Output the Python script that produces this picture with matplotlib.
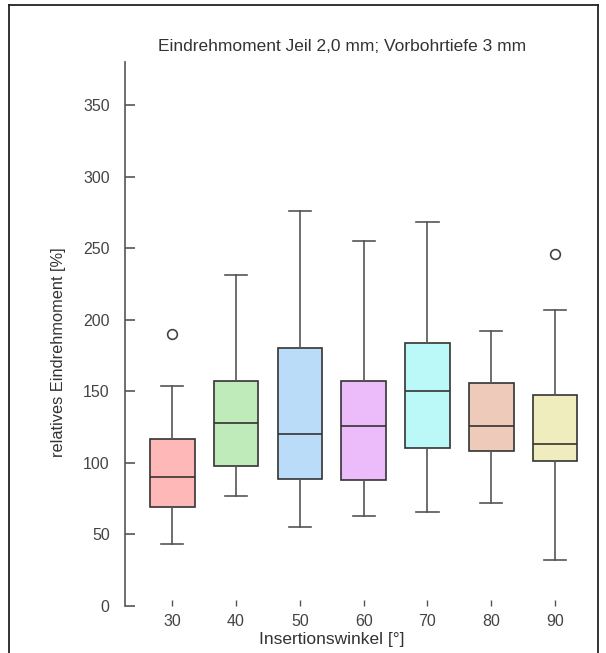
import matplotlib
matplotlib.use('Agg')
import matplotlib.pyplot as plt
from matplotlib.lines import Line2D

# values
winkel = ['30', '40', '50', '60', '70', '80', '90']
median = [90, 128, 120, 125.5, 150.5, 125.5, 113]
q1 = [69.5, 97.5, 89, 88, 110.5, 108.5, 101]
q3 = [117, 157, 180, 157, 184, 156, 147.5]
whisker_low = [43, 77, 55, 63, 66, 72, 32]
whisker_high = [154, 231, 276, 255, 268.5, 192, 206.5]
ausreisser = [[190], [], [], [], [], [], [246]]
farben = ['#FFB8B8', '#BEEBB9', '#BADCF9', '#EBBCF9', '#BAF9F7', '#EDCAB9', '#EFEDBD']

plt.rcParams['font.family'] = ['Liberation Sans', 'DejaVu Sans']
grau = '#444444'

fig = plt.figure(figsize=(6.06, 6.53), dpi=100)
ax = fig.add_axes([125 / 606, 47 / 653, 455 / 606, 544 / 653])

stats = []
for i in range(len(winkel)):
    stats.append({'med': median[i], 'q1': q1[i], 'q3': q3[i],
                  'whislo': whisker_low[i], 'whishi': whisker_high[i],
                  'fliers': ausreisser[i], 'label': winkel[i]})

bp = ax.bxp(stats, positions=range(1, 8), widths=0.7, patch_artist=True,
            boxprops=dict(edgecolor='#333333', linewidth=1.2),
            medianprops=dict(color='#333333', linewidth=1.2),
            whiskerprops=dict(color='#555555', linewidth=1.2),
            capprops=dict(color='#555555', linewidth=1.2),
            capwidths=0.35,
            flierprops=dict(marker='o', markerfacecolor='none', markeredgecolor='#444444',
                            markersize=7, markeredgewidth=1.2))
for box, c in zip(bp['boxes'], farben):
    box.set_facecolor(c)

ax.set_xlim(0.26, 7.39)
ax.set_ylim(0, 380)
ax.set_yticks(range(0, 351, 50))
for s in ['top', 'right', 'bottom']:
    ax.spines[s].set_visible(False)
ax.spines['left'].set_color('#555555')
ax.spines['left'].set_linewidth(1.2)
ax.tick_params(axis='y', direction='in', length=7, width=1.2, color='#555555',
               labelcolor=grau, labelsize=11.5, pad=11)
ax.tick_params(axis='x', direction='in', length=4, width=1.0, color='#555555',
               labelcolor=grau, labelsize=11.5, pad=6)

ax.set_title('Eindrehmoment Jeil 2,0 mm; Vorbohrtiefe 3 mm', fontsize=12.5, color='#333333', pad=8)
ax.title.set_x((342 - 125) / 455)
ax.set_xlabel('Insertionswinkel [°]', fontsize=12.5, color='#333333')
ax.xaxis.set_label_coords((332 - 125) / 455, -0.047)
ax.set_ylabel('relatives Eindrehmoment [%]', fontsize=11.8, color='#333333')
ax.yaxis.set_label_coords((66 - 125) / 455, (606 - 352) / 544)

# outer frame
W, H = 606, 653
fl = dict(color='#222222', linewidth=1.3, transform=fig.transFigure)
fig.add_artist(Line2D([9 / W, 9 / W], [0, 1 - 5 / H], **fl))
fig.add_artist(Line2D([9 / W, 598 / W], [1 - 5 / H, 1 - 5 / H], **fl))
fig.add_artist(Line2D([598 / W, 598 / W], [0, 1 - 5 / H], **fl))

fig.savefig('out.png', dpi=100)
